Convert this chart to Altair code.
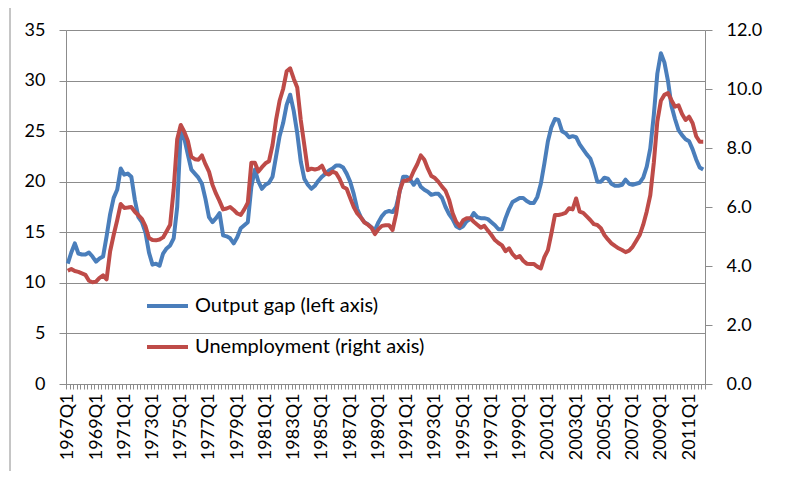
import altair as alt
import pandas as pd

# ---- data ----
years = list(range(1967, 2013))
quarters = [f"{y}Q{q}" for y in years for q in range(1, 5)][:181]

output_gap = [
    11.9, 13.0, 13.9, 12.9,   # 1967
    12.8, 12.8, 13.0, 12.6,   # 1968
    12.1, 12.4, 12.6, 14.6,   # 1969
    16.8, 18.4, 19.2, 21.3,   # 1970
    20.7, 20.8, 20.5, 18.2,   # 1971
    16.5, 16.0, 15.0, 13.0,   # 1972
    11.8, 11.9, 11.7, 12.9,   # 1973
    13.4, 13.7, 14.4, 17.5,   # 1974
    25.0, 24.3, 22.7, 21.2,   # 1975
    20.8, 20.4, 19.8, 18.3,   # 1976
    16.5, 16.0, 16.4, 16.9,   # 1977
    14.7, 14.6, 14.4, 13.9,   # 1978
    14.5, 15.4, 15.7, 16.0,   # 1979
    19.5, 21.2, 20.0, 19.3,   # 1980
    19.7, 19.9, 20.5, 22.5,   # 1981
    24.5, 25.8, 27.6, 28.6,   # 1982
    27.0, 24.8, 22.0, 20.3,   # 1983
    19.7, 19.3, 19.6, 20.1,   # 1984
    20.5, 20.8, 21.1, 21.3,   # 1985
    21.6, 21.6, 21.4, 20.8,   # 1986
    20.0, 18.8, 17.3, 16.5,   # 1987
    16.0, 15.8, 15.5, 15.2,   # 1988
    16.0, 16.6, 17.0, 17.1,   # 1989
    17.0, 17.5, 19.0, 20.5,   # 1990
    20.5, 20.2, 19.7, 20.2,   # 1991
    19.5, 19.2, 19.0, 18.7,   # 1992
    18.8, 18.8, 18.4, 17.5,   # 1993
    16.8, 16.3, 15.6, 15.4,   # 1994
    15.6, 16.1, 16.3, 16.9,   # 1995
    16.5, 16.4, 16.4, 16.3,   # 1996
    16.0, 15.7, 15.3, 15.3,   # 1997
    16.4, 17.3, 18.0, 18.2,   # 1998
    18.4, 18.4, 18.1, 17.9,   # 1999
    17.9, 18.5, 19.8, 21.8,   # 2000
    24.0, 25.4, 26.2, 26.1,   # 2001
    25.0, 24.8, 24.4, 24.5,   # 2002
    24.4, 23.7, 23.2, 22.7,   # 2003
    22.3, 21.3, 20.0, 20.0,   # 2004
    20.4, 20.3, 19.8, 19.6,   # 2005
    19.6, 19.7, 20.2, 19.8,   # 2006
    19.7, 19.8, 19.9, 20.4,   # 2007
    21.5, 23.3, 26.6, 30.7,   # 2008
    32.7, 31.8, 30.0, 27.5,   # 2009
    26.2, 25.1, 24.6, 24.2,   # 2010
    24.0, 23.2, 22.2, 21.4,   # 2011
    21.2,                     # 2012
]

unemployment = [
    3.84, 3.90, 3.83, 3.80,
    3.75, 3.70, 3.50, 3.45,
    3.47, 3.60, 3.68, 3.55,
    4.50, 5.05, 5.55, 6.10,
    5.97, 5.98, 6.00, 5.84,
    5.72, 5.60, 5.35, 4.95,
    4.88, 4.87, 4.90, 4.97,
    5.18, 5.40, 6.60, 8.30,
    8.78, 8.55, 8.25, 7.70,
    7.62, 7.60, 7.75, 7.45,
    7.20, 6.75, 6.45, 6.20,
    5.92, 5.95, 6.00, 5.90,
    5.78, 5.73, 5.92, 6.15,
    7.50, 7.50, 7.20, 7.35,
    7.48, 7.55, 8.10, 8.95,
    9.60, 10.00, 10.60, 10.70,
    10.35, 10.05, 8.95, 8.10,
    7.25, 7.30, 7.27, 7.30,
    7.40, 7.15, 7.10, 7.20,
    7.15, 6.95, 6.68, 6.62,
    6.30, 6.00, 5.78, 5.65,
    5.48, 5.40, 5.30, 5.08,
    5.25, 5.36, 5.38, 5.38,
    5.22, 5.75, 6.55, 6.88,
    6.90, 6.95, 7.22, 7.45,
    7.75, 7.60, 7.30, 7.05,
    6.98, 6.85, 6.69, 6.55,
    6.25, 5.80, 5.50, 5.35,
    5.55, 5.62, 5.62, 5.50,
    5.40, 5.30, 5.36, 5.20,
    5.05, 4.88, 4.78, 4.70,
    4.50, 4.60, 4.40, 4.28,
    4.34, 4.18, 4.08, 4.07,
    4.07, 3.98, 3.92, 4.30,
    4.54, 5.11, 5.73, 5.73,
    5.76, 5.80, 5.96, 5.92,
    6.29, 5.84, 5.80, 5.68,
    5.56, 5.42, 5.39, 5.28,
    5.05, 4.90, 4.77, 4.68,
    4.60, 4.54, 4.47, 4.52,
    4.65, 4.85, 5.05, 5.40,
    5.85, 6.40, 7.50, 8.90,
    9.60, 9.80, 9.86, 9.62,
    9.40, 9.45, 9.15, 8.95,
    9.06, 8.84, 8.40, 8.21,
    8.21,
]

left_ticks = [0, 5, 10, 15, 20, 25, 30, 35]
right_ticks = [0, 2, 4, 6, 8, 10, 12]
series_names = ["Output gap (left axis)", "Unemployment (right axis)"]
series_colors = ["#4A7EBB", "#BE4B48"]

df = pd.DataFrame({"quarter": quarters, "gap": output_gap, "unemp": unemployment})

FONT = "Lato"
GRAY = "#8C8C8C"

label_expr = ("(substring(datum.label,4,6)=='Q1' && "
              "(toNumber(substring(datum.label,0,4))-1967)%2==0) ? datum.label : ''")

x_enc = alt.X(
    "quarter:O", sort=None,
    scale=alt.Scale(type="band", paddingInner=0, paddingOuter=0),
    axis=alt.Axis(title=None, labelExpr=label_expr, labelAngle=-90, labelOverlap=False,
                  tickBand="extent", tickSize=5, tickColor=GRAY, domainColor=GRAY,
                  labelFont=FONT, labelFontSize=18, labelColor="black", labelPadding=4,
                  grid=False),
)

base = alt.Chart(df)

blue = base.mark_line(color=series_colors[0], strokeWidth=4, strokeJoin="round").encode(
    x=x_enc,
    y=alt.Y("gap:Q", scale=alt.Scale(domain=[0, 35], nice=False),
            axis=alt.Axis(orient="left", title=None, values=left_ticks, grid=True,
                          gridColor=GRAY, gridWidth=1, domainColor=GRAY, tickColor=GRAY,
                          tickSize=7, labelPadding=14, labelFont=FONT, labelFontSize=18,
                          labelColor="black")),
)

red = base.mark_line(color=series_colors[1], strokeWidth=4, strokeJoin="round").encode(
    x=x_enc,
    y=alt.Y("unemp:Q", scale=alt.Scale(domain=[0, 12], nice=False),
            axis=alt.Axis(orient="right", title=None, values=right_ticks, format=".1f",
                          grid=False, domainColor=GRAY, tickColor=GRAY, tickSize=7,
                          labelPadding=14, labelFont=FONT, labelFontSize=18,
                          labelColor="black")),
)

dummy = pd.DataFrame({"a": [0]})

border = alt.Chart(dummy).mark_rect(filled=False, stroke=GRAY, strokeWidth=1).encode(
    x=alt.value(-56), x2=alt.value(900), y=alt.value(-23), y2=alt.value(700)
)

legend_layers = []
for i, (name, col) in enumerate(zip(series_names, series_colors)):
    yy = 276 + 41 * i
    legend_layers.append(
        alt.Chart(dummy).mark_rule(color=col, strokeWidth=4).encode(
            x=alt.value(81), x2=alt.value(122), y=alt.value(yy))
    )
    legend_layers.append(
        alt.Chart(dummy).mark_text(text=name, align="left", baseline="middle",
                                   font=FONT, fontSize=20, color="black").encode(
            x=alt.value(129), y=alt.value(yy))
    )

lines = alt.layer(blue, red).resolve_scale(y="independent")

chart = alt.layer(border, lines, *legend_layers).resolve_scale(y="independent").properties(
    width=639, height=354,
    autosize=alt.AutoSizeParams(type="none"),
    padding={"left": 58, "top": 22, "right": 81, "bottom": 87},
).configure_view(stroke=None).configure(background="white")

chart.save("out.html", embed_options={"renderer": "svg", "actions": False})
